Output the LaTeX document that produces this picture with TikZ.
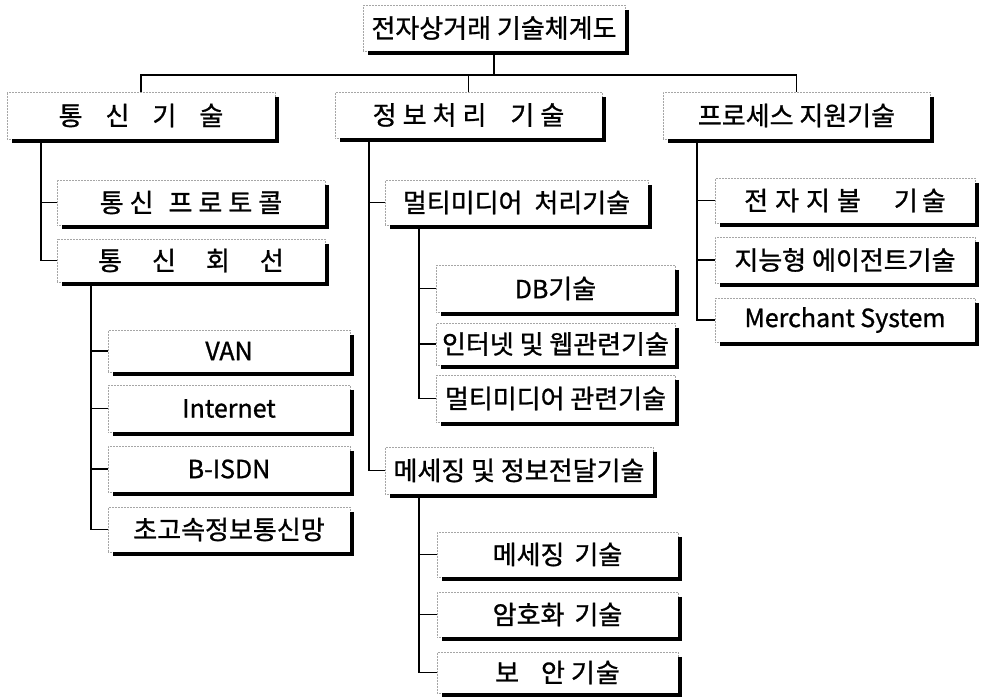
\documentclass[tikz,border=0pt]{standalone}
\usepackage{fontspec}
\setmainfont[FakeBold=1]{Noto Sans CJK KR}
\newcommand\g[1]{\hspace{#1pt}}
\newcommand\lat{\fontsize{25}{29}\selectfont}
\newcommand\bx[6]{\node[box, minimum width={(#4-#2)*1pt}, minimum height={(#5-#3)*1pt}] (#1) at ({(#2+#4)/2},{(#3+#5)/2}) {#6};}
\begin{document}
\begin{tikzpicture}[x=1pt,y=-1pt,
  box/.style={draw=gray!70, densely dotted, line width=0.5pt, inner sep=0pt, fill=white,
    font=\fontsize{26}{30}\selectfont, text=black},
  link/.style={line width=1.8pt, line join=miter},
  shade/.style={line width=3.5pt, line join=miter}]
\fill[white] (0,0) rectangle (981,697);
\useasboundingbox (0,0) rectangle (981,697);

\bx{top}{363}{5}{625}{51}{전자상거래 기술체계도}
\bx{t1}{7}{92}{275}{139}{통\g{23}신\g{23}기\g{23}술}
\bx{t2}{335}{92}{602}{138}{정\g6보\g6처\g6리\g{24}기\g6술}
\bx{t3}{663}{92}{930}{139}{프로세스 지원기술}

\bx{c11}{57}{180}{325}{225}{통\g6신\g{15}프\g6로\g6토\g6콜}
\bx{c12}{57}{239}{325}{282}{통\g{30}신\g{30}회\g{30}선}
\bx{d1}{108}{330}{350}{372}{\lat VAN}
\bx{d2}{108}{385}{350}{432}{\lat Internet}
\bx{d3}{108}{446}{350}{492}{\lat B-ISDN}
\bx{d4}{108}{507}{350}{552}{초고속정보통신망}

\bx{c21}{385}{180}{648}{225}{멀티미디어\g{12}처리기술}
\bx{e1}{436}{265}{675}{312}{{\lat DB}기술}
\bx{e2}{436}{323}{675}{365}{인터넷 및 웹관련기술}
\bx{e3}{436}{375}{675}{422}{멀티미디어 관련기술}
\bx{c22}{385}{447}{653}{494}{메세징 및 정보전달기술}
\bx{f1}{437}{532}{678}{577}{메세징\g{10}기술}
\bx{f2}{437}{592}{678}{637}{암호화\g{10}기술}
\bx{f3}{437}{652}{678}{693}{보\g{22}안\g6기\g1술}

\bx{c31}{715}{178}{975}{223}{전\g7자\g7지\g7불\g{33}기\g4술}
\bx{c32}{715}{237}{975}{283}{지능형 에이전트기술}
\bx{c33}{715}{298}{975}{342}{\lat Merchant System}

\foreach \n in {top,t1,t2,t3,c11,c12,d1,d2,d3,d4,c21,e1,e2,e3,c22,f1,f2,f3,c31,c32,c33}
  \draw[shade] ([xshift=1.5pt,yshift=-5pt]\n.north east) -- ([xshift=1.5pt,yshift=-1.5pt]\n.south east) -- ([xshift=5pt,yshift=-1.5pt]\n.south west);

\coordinate (bus) at (0,75);
\draw[link] (top.south) -- (top.south |- bus);
\draw[link] (t1.north) -- (t1.north |- bus) -- (t3.north |- bus) -- (t3.north);
\draw[link] (t2.north) -- (t2.north |- bus);

\foreach \p/\s in {t1/c11,t1/c12,c12/d1,c12/d2,c12/d3,c12/d4,t2/c21,t2/c22,c21/e1,c21/e2,c21/e3,c22/f1,c22/f2,c22/f3,t3/c31,t3/c32,t3/c33}
  \draw[link] ([xshift=34pt,yshift=-3pt]\p.south west) |- (\s.west);
\end{tikzpicture}
\end{document}
